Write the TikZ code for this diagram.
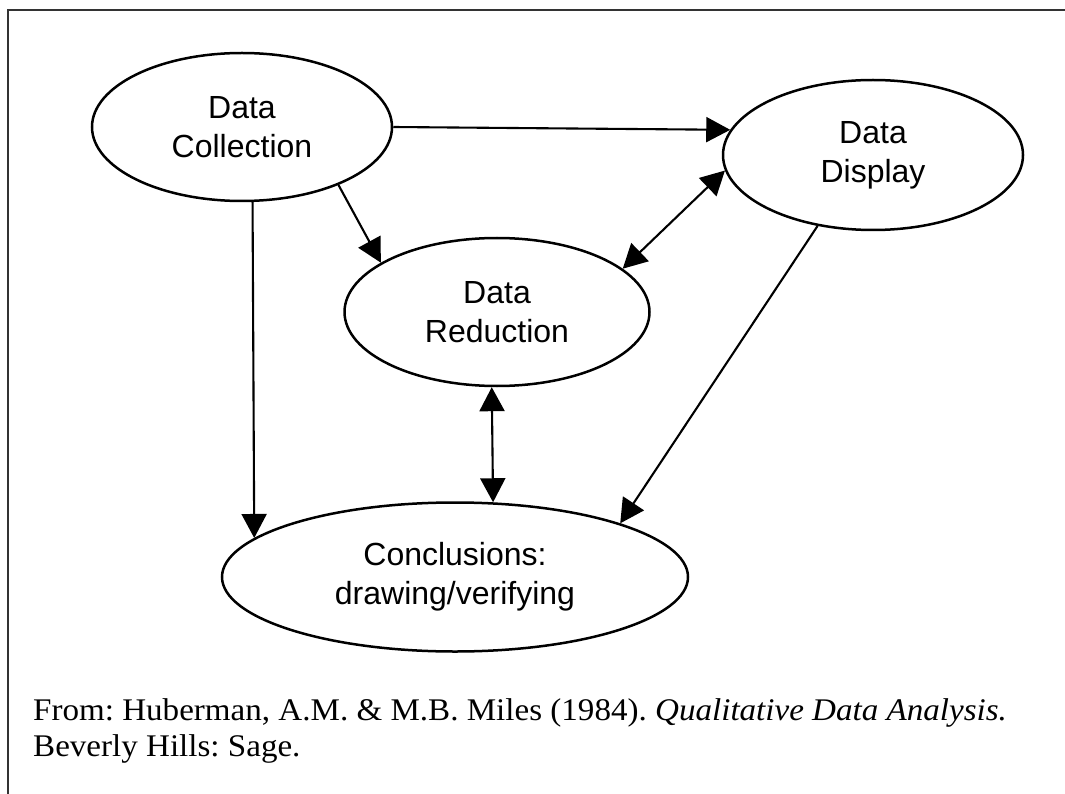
\documentclass[tikz,border=0pt]{standalone}
\usepackage{fontspec}
\setmainfont{Liberation Serif}[FakeStretch=1.05]
\setsansfont{Liberation Sans}
\usepackage{tikz}
\usetikzlibrary{shapes, arrows.meta, positioning}

\tikzset{
  stage/.style={ellipse, draw, line width=2.5pt, inner sep=0pt, align=center,
    font=\sffamily\fontsize{32}{39}\selectfont},
  link/.style={-{Triangle[length=24pt,width=25pt]}, line width=2.1pt},
  twolink/.style={{Triangle[length=24pt,width=25pt]}-{Triangle[length=24pt,width=25pt]}, line width=2.1pt},
  cite/.style={font=\fontsize{31.5}{36}\selectfont, inner sep=0pt}
}

\begin{document}
\frenchspacing
\begin{tikzpicture}[x=1pt, y=-1pt]
		\useasboundingbox (0,0) rectangle (1065,794);
		% Cadre
		\draw[line width=1.2pt, black!80] (8,794) -- (8,10) -- (1065,10);
		
		% Etapes
		\node[stage, minimum width=300pt, minimum height=148pt] (collect) at (242,127) {Data\\Collection};
		\node[stage, minimum width=300pt, minimum height=150pt] (display) at (873,155) {Data\\Display};
		\node[stage, minimum width=305pt, minimum height=148pt] (reduce) at (497,312) {Data\\Reduction};
		\node[stage, minimum width=466pt, minimum height=149pt] (conclude) at (455,577) {Conclusions:\\drawing/verifying};
		
		% Flèches
		\draw[link] (collect.east) -- (display.170);
		\draw[link] (collect.-31) -- (reduce.157);
		\draw[link] (collect.-82) -- (conclude.169);
		\draw[twolink] (reduce.19) -- (display.186);
		\draw[twolink] (reduce.-94) -- (conclude.63);
		\draw[link] (display.-128) -- (conclude.18);
		
		% Source
		\node[cite, anchor=base west] (source) at (33,720) {From: Huberman, A.M. \& M.B. Miles (1984). \textit{Qualitative Data Analysis.}};
		\node[cite, anchor=base west] (publisher) at ([yshift=-36pt]source.base west) {Beverly Hills: Sage.};
		
	\end{tikzpicture}
\end{document}
